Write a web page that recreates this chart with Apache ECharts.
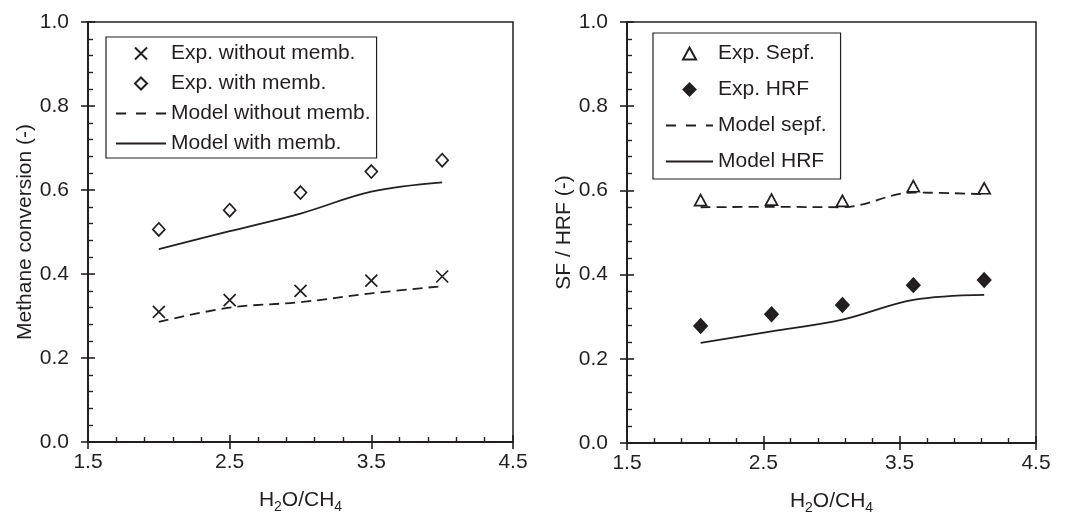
<!DOCTYPE html>
<html><head><meta charset="utf-8">
<script src="https://cdn.jsdelivr.net/npm/echarts@6/dist/echarts.min.js"></script>
<style>html,body{margin:0;padding:0;background:#fff}#c{width:1072px;height:513px}</style>
</head><body><div id="c"></div>
<script>
// ---- data ----
const X0 = 1.5;                    // x-axis origin (axis drawn in offset units)
const xTickLabels = ['1.5', '2.5', '3.5', '4.5'];
const yTickLabels = ['0.0', '0.2', '0.4', '0.6', '0.8', '1.0'];

// left panel: methane conversion
const xLeft = [2.0, 2.5, 3.0, 3.5, 4.0];
const expWithout = [0.310, 0.338, 0.360, 0.384, 0.394];
const expWith = [0.506, 0.552, 0.594, 0.644, 0.671];
const modelWithout = [0.286, 0.320, 0.333, 0.354, 0.371];
const modelWith = [0.459, 0.502, 0.544, 0.596, 0.618];

// right panel: SF / HRF
const xRight = [2.04, 2.56, 3.08, 3.60, 4.12];
const expSepf = [0.577, 0.578, 0.575, 0.610, 0.605];
const expHRF = [0.278, 0.306, 0.328, 0.375, 0.387];
const modelSepf = [0.560, 0.561, 0.560, 0.595, 0.591];
const modelHRF = [0.238, 0.265, 0.293, 0.340, 0.352];

// ---- chart ----
const FONT = '"Liberation Sans", Arial, Helvetica, sans-serif';
const INK = '#231f20';
const pts = (xs, ys) => xs.map((x, i) => [x - X0, ys[i]]);

const xName = {
  n: { fontSize: 21, fontFamily: FONT, color: INK, lineHeight: 28 },
  s: { fontSize: 14, fontFamily: FONT, color: INK, verticalAlign: 'bottom', lineHeight: 14 }
};

function xAxes(gi) {
  return [
    { type: 'value', gridIndex: gi, position: 'bottom', min: 0, max: 3, interval: 1,
      name: '{n|H}{s|2}{n|O/CH}{s|4}', nameLocation: 'middle', nameGap: 44,
      nameTextStyle: { rich: xName },
      axisLine: { show: true, onZero: false, lineStyle: { color: INK, width: 2 } },
      axisTick: { show: true, inside: false, length: 7, lineStyle: { color: INK, width: 1.6 } },
      minorTick: { show: false },
      axisLabel: { show: true, margin: 10, fontSize: 21, fontFamily: FONT, color: INK,
        formatter: v => xTickLabels[Math.round(v)] },
      splitLine: { show: false } },
    { type: 'value', gridIndex: gi, position: 'bottom', min: 0, max: 3, interval: 1,
      axisLine: { show: false, onZero: false },
      axisTick: { show: true, inside: true, length: 7, lineStyle: { color: INK, width: 1.6 } },
      minorTick: { show: true, splitNumber: 5, length: 5, lineStyle: { color: INK, width: 1.4 } },
      axisLabel: { show: false }, splitLine: { show: false } }
  ];
}
function yAxes(gi, name, gap) {
  return [
    { type: 'value', gridIndex: gi, position: 'left', min: 0, max: 1, interval: 0.2,
      name: name, nameLocation: 'middle', nameGap: gap,
      nameTextStyle: { fontSize: 21, fontFamily: FONT, color: INK },
      axisLine: { show: true, onZero: false, lineStyle: { color: INK, width: 2 } },
      axisTick: { show: true, inside: false, length: 7, lineStyle: { color: INK, width: 1.6 } },
      minorTick: { show: false },
      axisLabel: { show: true, margin: 19, fontSize: 21, fontFamily: FONT, color: INK,
        formatter: v => yTickLabels[Math.round(v * 5)] },
      splitLine: { show: false } },
    { type: 'value', gridIndex: gi, position: 'left', min: 0, max: 1, interval: 0.2,
      axisLine: { show: false, onZero: false },
      axisTick: { show: true, inside: true, length: 7, lineStyle: { color: INK, width: 1.6 } },
      minorTick: { show: true, splitNumber: 5, length: 5, lineStyle: { color: INK, width: 1.4 } },
      axisLabel: { show: false }, splitLine: { show: false } }
  ];
}

const crossPath = 'path://M0,0L10,10M10,0L0,10';
const diamondPath = 'path://M6,0L12,6L6,12L0,6Z';
const trianglePath = 'path://M6,0L12,11L0,11Z';
function scatter(name, xi, data, symbol, size, fill) {
  return { name, type: 'scatter', xAxisIndex: xi, yAxisIndex: xi, data, symbol, symbolSize: size, z: 5,
    itemStyle: { color: fill, borderColor: INK, borderWidth: 1.7, opacity: 1 } };
}
function line(name, xi, data, dashed) {
  return { name, type: 'line', xAxisIndex: xi, yAxisIndex: xi, data, symbol: 'none', smooth: 0.35, z: 3,
    lineStyle: { color: INK, width: 1.8, type: dashed ? [10, 6] : 'solid' }, itemStyle: { color: INK } };
}
const hideSym = { color: 'rgba(0,0,0,0)', borderColor: 'rgba(0,0,0,0)', borderWidth: 0 };
const legendDash = { type: [10, 10], width: 1.8, color: INK };

const legendText = { fontSize: 21, fontFamily: FONT, color: INK };

const option = {
  backgroundColor: '#fff',
  animation: false,
  grid: [
    { left: 88, top: 22, width: 425, height: 420, show: true, borderColor: INK, borderWidth: 1.5,
      backgroundColor: 'transparent', outerBoundsMode: 'none' },
    { left: 627, top: 22, width: 409, height: 421, show: true, borderColor: INK, borderWidth: 1.5,
      backgroundColor: 'transparent', outerBoundsMode: 'none' }
  ],
  xAxis: [...xAxes(0), ...xAxes(1)],
  yAxis: [...yAxes(0, 'Methane conversion (-)', 52), ...yAxes(1, 'SF / HRF (-)', 50)],
  legend: [
    { left: 106, top: 37, orient: 'vertical', itemWidth: 50, itemHeight: 12, itemGap: 9,
      padding: [6, 6, 4, 9], borderColor: INK, borderWidth: 1.2, backgroundColor: '#fff',
      textStyle: legendText, selectedMode: false,
      data: [
        { name: 'Exp. without memb.', icon: crossPath },
        { name: 'Exp. with memb.', icon: diamondPath },
        { name: 'Model without memb.', itemStyle: hideSym, lineStyle: legendDash },
        { name: 'Model with memb.', itemStyle: hideSym }
      ] },
    { left: 653, top: 33, orient: 'vertical', itemWidth: 47, itemHeight: 12, itemGap: 15,
      padding: [10, 14, 7, 12], borderColor: INK, borderWidth: 1.2, backgroundColor: '#fff',
      textStyle: legendText, selectedMode: false,
      data: [
        { name: 'Exp. Sepf.', icon: trianglePath },
        { name: 'Exp. HRF', icon: diamondPath },
        { name: 'Model sepf.', itemStyle: hideSym, lineStyle: legendDash },
        { name: 'Model HRF', itemStyle: hideSym }
      ] }
  ],
  series: [
    scatter('Exp. without memb.', 0, pts(xLeft, expWithout), crossPath, 12, 'none'),
    scatter('Exp. with memb.', 0, pts(xLeft, expWith), 'diamond', [12, 13], '#fff'),
    line('Model without memb.', 0, pts(xLeft, modelWithout), true),
    line('Model with memb.', 0, pts(xLeft, modelWith), false),
    scatter('Exp. Sepf.', 2, pts(xRight, expSepf), 'triangle', [12, 11], '#fff'),
    scatter('Exp. HRF', 2, pts(xRight, expHRF), 'diamond', [13, 14], INK),
    line('Model sepf.', 2, pts(xRight, modelSepf), true),
    line('Model HRF', 2, pts(xRight, modelHRF), false)
  ]
};

const chart = echarts.init(document.getElementById('c'), null, { renderer: 'canvas' });
chart.setOption(option);
</script>
</body></html>
